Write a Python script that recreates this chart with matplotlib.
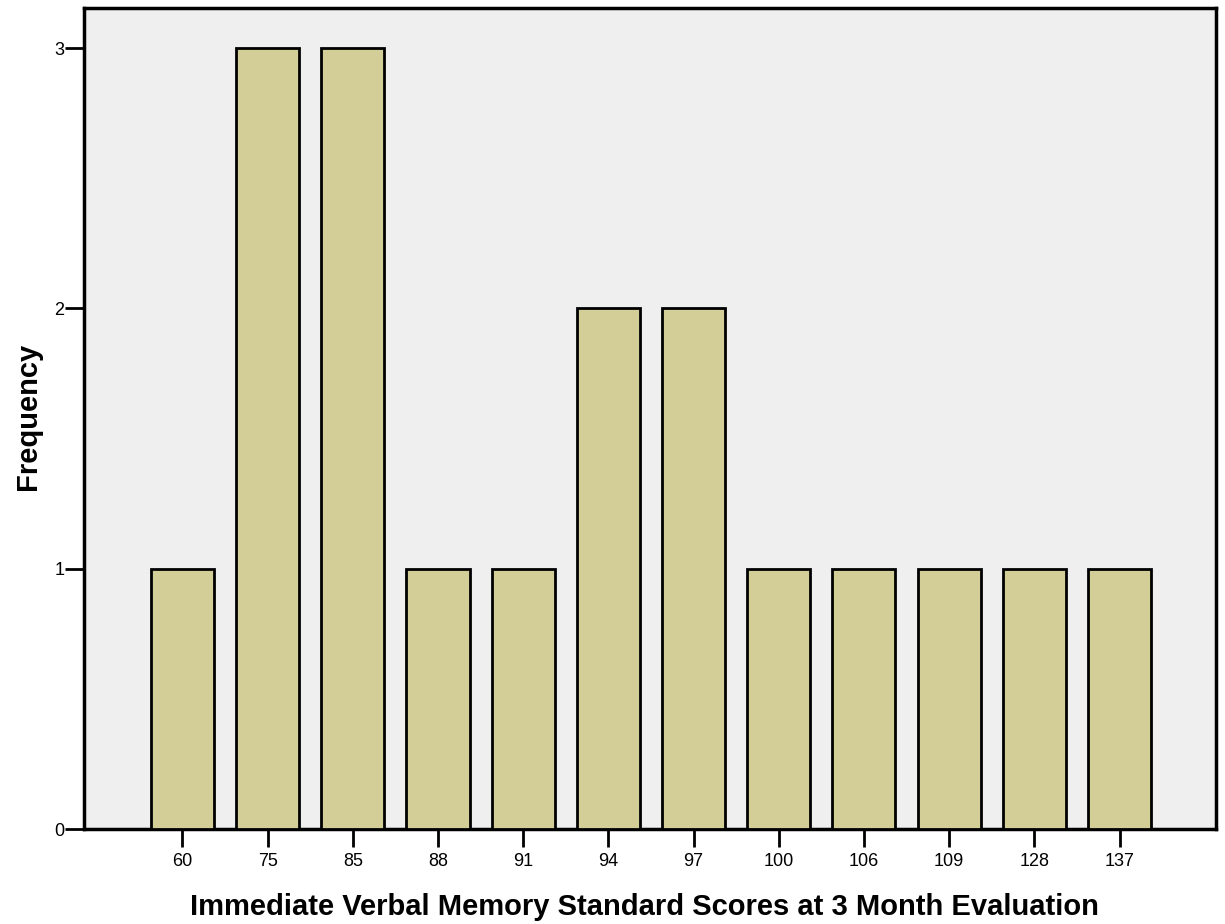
import matplotlib
matplotlib.use("Agg")
import matplotlib.pyplot as plt

categories = ["60", "75", "85", "88", "91", "94", "97", "100", "106", "109", "128", "137"]
frequency = [1, 3, 3, 1, 1, 2, 2, 1, 1, 1, 1, 1]
y_ticks = [0, 1, 2, 3]

plt.rcParams['font.family'] = ['Liberation Sans', 'DejaVu Sans']

fig = plt.figure(figsize=(12.25, 9.24), dpi=100)
ax = fig.add_axes([0.0686, 0.1028, 0.9241, 0.8885])
ax.set_facecolor('#EFEFEF')

x = list(range(len(categories)))
ax.bar(x, frequency, width=0.74, color='#D3CE97', edgecolor='black', linewidth=2, zorder=3)

ax.set_xlim(-1.155, 11 + 1.133)
ax.set_ylim(0, 3.154)
ax.set_xticks(x)
ax.set_xticklabels(categories, fontsize=13)
ax.set_yticks(y_ticks)
ax.set_yticklabels([str(v) for v in y_ticks], fontsize=13)
ax.tick_params(axis='both', direction='out', length=13, width=2, pad=4, colors='black')
ax.tick_params(axis='y', length=14, pad=0)

for s in ax.spines.values():
    s.set_linewidth(2.5)
    s.set_color('black')

ax.set_xlabel("Immediate Verbal Memory Standard Scores at 3 Month Evaluation",
              fontsize=21, fontweight='bold')
ax.set_ylabel("Frequency", fontsize=21, fontweight='bold')
ax.xaxis.set_label_coords(0.4947, -0.078)
ax.yaxis.set_label_coords(-0.037, 0.503)

fig.savefig("out.png", dpi=100)
